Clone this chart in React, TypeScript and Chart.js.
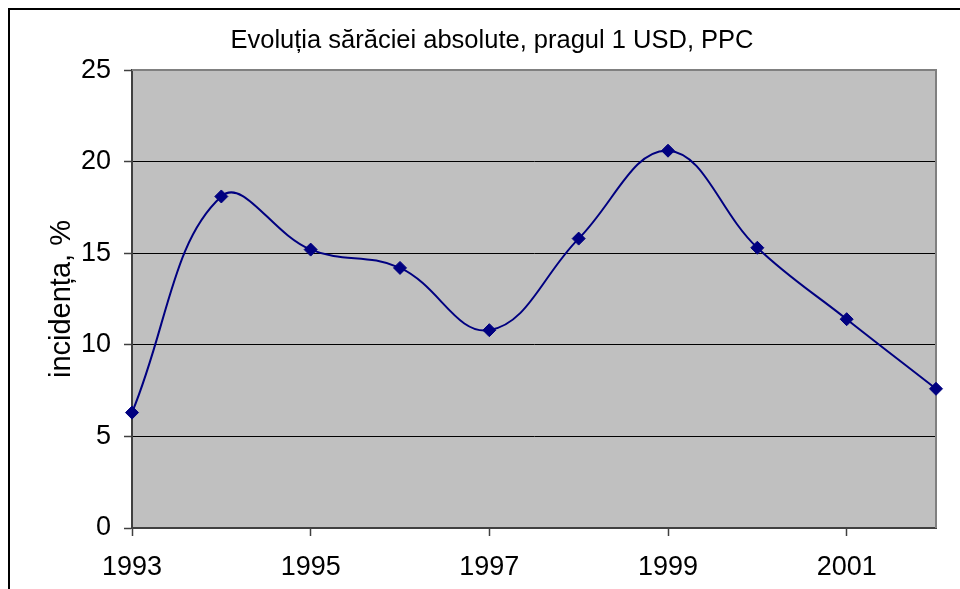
import React, { useEffect, useRef } from 'react';
import { Chart, registerables } from 'chart.js';

Chart.register(...registerables);

const years = ['1993', '1994', '1995', '1996', '1997', '1998', '1999', '2000', '2001', '2002'];
const incidence = [6.3, 18.1, 15.2, 14.2, 10.8, 15.8, 20.6, 15.3, 11.4, 7.6];
const yTickValues = [0, 5, 10, 15, 20, 25];
const chartTitle = 'Evoluția sărăciei absolute, pragul 1 USD, PPC';
const yAxisTitle = 'incidența, %';

const FONT = "'Liberation Sans', Arial, sans-serif";

const plotFrame = {
  id: 'plotFrame',
  beforeDraw(chart: any) {
    const { ctx, chartArea } = chart;
    const { left, top, right, bottom } = chartArea;
    ctx.save();
    ctx.fillStyle = '#C0C0C0';
    ctx.fillRect(left, top, right - left, bottom - top);
    ctx.restore();
  },
  beforeDatasetsDraw(chart: any) {
    const { ctx, chartArea } = chart;
    const { left, top, right, bottom } = chartArea;
    ctx.save();
    ctx.strokeStyle = '#808080';
    ctx.lineWidth = 2;
    ctx.beginPath();
    ctx.moveTo(left, top);
    ctx.lineTo(right, top);
    ctx.lineTo(right, bottom);
    ctx.stroke();
    ctx.restore();
  },
};

export default function App() {
  const canvasRef = useRef<HTMLCanvasElement | null>(null);

  useEffect(() => {
    if (!canvasRef.current) return;
    const chart = new Chart(canvasRef.current, {
      type: 'line',
      data: {
        labels: years,
        datasets: [
          {
            data: incidence,
            borderColor: '#000080',
            backgroundColor: '#000080',
            borderWidth: 2,
            tension: 0.4,
            pointStyle: 'rectRot',
            pointRadius: 6.5,
            pointBorderWidth: 1,
            pointBackgroundColor: '#000080',
            pointBorderColor: '#000080',
            clip: false as any,
            fill: false,
          },
        ],
      },
      options: {
        responsive: false,
        animation: false,
        devicePixelRatio: 1,
        layout: { padding: { left: 38, right: 38, top: 0, bottom: 0 } },
        plugins: {
          legend: { display: false },
          tooltip: { enabled: false },
          title: {
            display: true,
            text: chartTitle,
            color: '#000',
            font: { family: FONT, size: 25.5, weight: 'normal' },
            padding: { top: 15.5, bottom: 14 },
          },
        },
        scales: {
          x: {
            type: 'category',
            offset: false,
            afterFit(scale: any) {
              scale.height = 61;
            },
            grid: {
              drawOnChartArea: false,
              drawTicks: true,
              tickLength: 8,
              tickColor: '#404040',
              tickWidth: 1.5,
            },
            border: { color: '#404040', width: 2 },
            ticks: {
              autoSkip: false,
              maxRotation: 0,
              minRotation: 0,
              padding: 15.5,
              color: '#000',
              font: { family: FONT, size: 27 },
              callback: (_v: any, i: number) => (i % 2 === 0 ? years[i] : null),
            },
          },
          y: {
            min: 0,
            max: 25,
            afterBuildTicks(scale: any) {
              scale.ticks = yTickValues.map((v) => ({ value: v }));
            },
            afterFit(scale: any) {
              scale.width = 84;
            },
            grid: {
              color: (ctx: any) => (ctx.tick && ctx.tick.value === 25 ? 'rgba(0,0,0,0)' : '#000000'),
              lineWidth: 1,
              drawTicks: true,
              tickLength: 8,
              tickColor: '#404040',
              tickWidth: 1.5,
            },
            border: { color: '#404040', width: 2 },
            ticks: {
              padding: 13,
              color: '#000',
              font: { family: FONT, size: 27 },
            },
            title: {
              display: true,
              text: yAxisTitle,
              color: '#000',
              font: { family: FONT, size: 29, weight: 'normal' },
              padding: { top: -3.4, bottom: 0 },
            },
          },
        },
      },
      plugins: [plotFrame],
    });
    return () => chart.destroy();
  }, []);

  return (
    <div
      style={{
        position: 'fixed',
        left: 8,
        top: 8,
        right: 0,
        bottom: 0,
        overflow: 'hidden',
        borderLeft: '2px solid #000',
        borderTop: '2px solid #000',
        background: '#fff',
      }}
    >
      <canvas
        ref={canvasRef}
        width={964}
        height={579}
        style={{ position: 'absolute', left: 0, top: 0, width: 964, height: 579 }}
      />
    </div>
  );
}
